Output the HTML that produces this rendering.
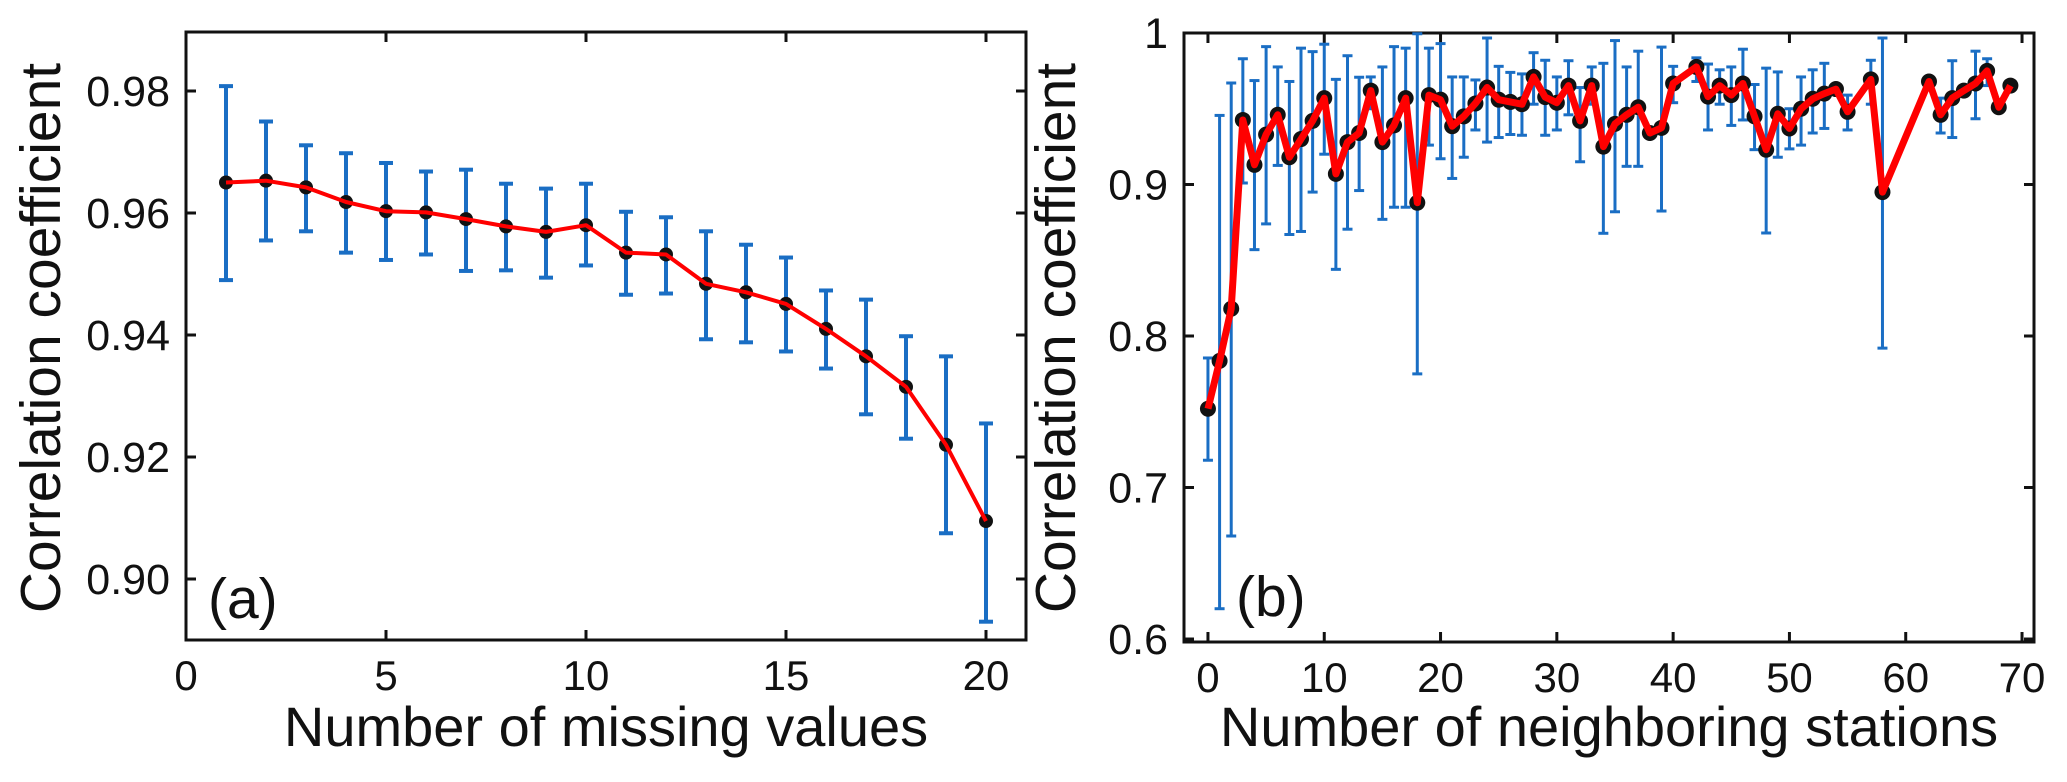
<!DOCTYPE html>
<html><head><meta charset="utf-8"><style>
html,body{margin:0;padding:0;background:#fff;}
svg{display:block;font-family:"Liberation Sans",Arial,sans-serif;}
</style></head><body>
<svg id="fig" width="2067" height="782" viewBox="0 0 2067 782"></svg>
<script>
// Panel (a) data
const aX = [1,2,3,4,5,6,7,8,9,10,11,12,13,14,15,16,17,18,19,20];
const aY = [0.9650,0.9653,0.9642,0.9618,0.9603,0.9601,0.9590,0.9578,0.9569,0.9580,0.9535,0.9532,0.9484,0.9470,0.9451,0.9410,0.9365,0.9315,0.9220,0.9095];
const aHi = [0.9808,0.9750,0.9711,0.9698,0.9682,0.9668,0.9671,0.9648,0.9640,0.9648,0.9602,0.9593,0.9570,0.9548,0.9527,0.9473,0.9458,0.9398,0.9365,0.9255];
const aLo = [0.9490,0.9555,0.9570,0.9535,0.9523,0.9532,0.9505,0.9506,0.9494,0.9514,0.9466,0.9468,0.9393,0.9388,0.9373,0.9345,0.9270,0.9230,0.9075,0.8930];
const aXTicks = [0,5,10,15,20];
const aYTicks = [0.90,0.92,0.94,0.96,0.98];
const aYTickLabels = ["0.90","0.92","0.94","0.96","0.98"];
// Panel (b) data
const bX = [0,1,2,3,4,5,6,7,8,9,10,11,12,13,14,15,16,17,18,19,20,21,22,23,24,25,26,27,28,29,30,31,32,33,34,35,36,37,38,39,40,42,43,44,45,46,47,48,49,50,51,52,53,54,55,57,58,62,63,64,65,66,67,68,69];
const bY = [0.752,0.7836,0.818,0.9426,0.913,0.933,0.946,0.918,0.930,0.942,0.957,0.907,0.928,0.934,0.962,0.928,0.939,0.957,0.888,0.959,0.956,0.9385,0.945,0.9535,0.964,0.956,0.9545,0.953,0.971,0.9577,0.954,0.9653,0.942,0.9653,0.925,0.940,0.946,0.951,0.934,0.9374,0.9667,0.9776,0.958,0.9653,0.959,0.9667,0.945,0.923,0.9467,0.937,0.950,0.9566,0.960,0.963,0.948,0.9694,0.895,0.968,0.946,0.957,0.962,0.9667,0.975,0.951,0.9653];
const bHi = [0.7855,0.9456,0.967,0.983,0.9686,0.991,0.9776,0.968,0.990,0.9877,0.9926,0.9694,0.985,0.9708,0.971,0.9776,0.991,0.990,0.9995,0.990,0.993,0.971,0.971,0.969,0.9967,0.978,0.974,0.973,0.987,0.982,0.971,0.9817,0.964,0.9776,0.980,0.995,0.9776,0.988,0.936,0.9907,0.978,0.9836,0.9795,0.9757,0.9776,0.9893,0.966,0.9768,0.9743,0.950,0.971,0.9757,0.980,0.965,0.959,0.982,0.9967,0.970,0.957,0.9817,0.964,0.988,0.983,0.953,0.967];
const bLo = [0.718,0.620,0.668,0.901,0.857,0.874,0.9126,0.867,0.869,0.895,0.920,0.844,0.8705,0.896,0.950,0.877,0.885,0.885,0.775,0.926,0.917,0.904,0.918,0.936,0.928,0.931,0.933,0.9325,0.953,0.9325,0.936,0.946,0.915,0.953,0.8678,0.882,0.912,0.912,0.932,0.8825,0.954,0.968,0.936,0.953,0.939,0.9426,0.923,0.868,0.918,0.9235,0.926,0.934,0.937,0.961,0.936,0.953,0.792,0.966,0.934,0.931,0.960,0.9434,0.9653,0.949,0.963];
const bXTicks = [0,10,20,30,40,50,60,70];
const bYTicks = [0.6,0.7,0.8,0.9,1.0];
const bYTickLabels = ["0.6","0.7","0.8","0.9","1"];

const NS = "http://www.w3.org/2000/svg";
const svg = document.getElementById('fig');
function mk(tag, attrs, parent){
  const e = document.createElementNS(NS, tag);
  for (const k in attrs) e.setAttribute(k, attrs[k]);
  (parent||svg).appendChild(e);
  return e;
}
function lin(d0,d1,r0,r1){ return v => r0 + (v-d0)/(d1-d0)*(r1-r0); }

function panel(cfg){
  const g = mk('g', {});
  
  
  const sx = lin(cfg.xd[0], cfg.xd[1], cfg.L, cfg.R);
  const sy = lin(cfg.yd[0], cfg.yd[1], cfg.B, cfg.T);
  const fr = mk('rect', {x:cfg.L, y:cfg.T, width:cfg.R-cfg.L, height:cfg.B-cfg.T, fill:'none', stroke:'#111', 'stroke-width':3}, g);
  
  
  cfg.xt.forEach(t => {
    const x = sx(t);
    mk('line', {x1:x, x2:x, y1:cfg.B, y2:cfg.B-10, stroke:'#111', 'stroke-width':3}, g);
    mk('line', {x1:x, x2:x, y1:cfg.T, y2:cfg.T+10, stroke:'#111', 'stroke-width':3}, g);
    const tx = mk('text', {x:x, y:cfg.B+50, 'font-size':42, 'text-anchor':'middle', fill:'#111'}, g);
    tx.textContent = String(t);
    
    
  });
  cfg.yt.forEach((t,i) => {
    const y = sy(t);
    mk('line', {x1:cfg.L, x2:cfg.L+10, y1:y, y2:y, stroke:'#111', 'stroke-width':3}, g);
    mk('line', {x1:cfg.R, x2:cfg.R-10, y1:y, y2:y, stroke:'#111', 'stroke-width':3}, g);
    const tx = mk('text', {x:cfg.L-16, y:y+15, 'font-size':43, 'text-anchor':'end', fill:'#111'}, g);
    tx.textContent = cfg.ytl[i];
    
    
  });
  const xt = mk('text', {x:(cfg.L+cfg.R)/2, y:746, 'font-size':56, 'text-anchor':'middle', fill:'#111'}, g);
  xt.textContent = cfg.xtitle;
  
  
  const yt = mk('text', {x:0, y:0, 'font-size':57, 'text-anchor':'middle', fill:'#111', transform:`translate(${cfg.ytx},338) rotate(-90)`}, g);
  yt.textContent = 'Correlation coefficient';
  
  
  const pl = mk('text', {x:cfg.lab[0], y:cfg.lab[1], 'font-size':57, fill:'#111'}, g);
  pl.textContent = cfg.label;
  
  
  cfg.x.forEach((v,i) => {
    const x = sx(v), y1 = sy(cfg.hi[i]), y2 = sy(cfg.lo[i]);
    const eb = mk('g', {stroke:'#1a6ec4', 'stroke-width':cfg.ebw}, g);
    
    
    mk('line', {x1:x, x2:x, y1:y1, y2:y2}, eb);
    mk('line', {x1:x-cfg.cap, x2:x+cfg.cap, y1:y1, y2:y1}, eb);
    mk('line', {x1:x-cfg.cap, x2:x+cfg.cap, y1:y2, y2:y2}, eb);
  });
  cfg.x.forEach((v,i) => {
    const c = mk('circle', {cx:sx(v), cy:sy(cfg.y[i]), r:cfg.mr, fill:'#111'}, g);
    
    
  });
  const d = cfg.x.map((v,i) => (i?'L':'M') + sx(v).toFixed(1) + ',' + sy(cfg.y[i]).toFixed(1)).join(' ');
  const p = mk('path', {d:d, fill:'none', stroke:'#ff0000', 'stroke-width':cfg.lw, 'stroke-linejoin':'round'}, g);
  
  
}

panel({name:'panel-a', L:186, R:1026, T:32, B:640, xd:[0,21], yd:[0.89,0.98+59/6100],
  xt:aXTicks, yt:aYTicks, ytl:aYTickLabels, x:aX, y:aY, hi:aHi, lo:aLo,
  xtitle:'Number of missing values', ytx:60, label:'(a)', lab:[208,618],
  ebw:4, cap:7, mr:7, lw:4});
panel({name:'panel-b', L:1184, R:2034, T:33, B:642, xd:[-2.06,71.03], yd:[0.6+(-3)/1523,1.0],
  xt:bXTicks, yt:bYTicks, ytl:bYTickLabels, x:bX, y:bY, hi:bHi, lo:bLo,
  xtitle:'Number of neighboring stations', ytx:1075, label:'(b)', lab:[1236,616],
  ebw:3, cap:5, mr:8, lw:7});
</script>
</body></html>
